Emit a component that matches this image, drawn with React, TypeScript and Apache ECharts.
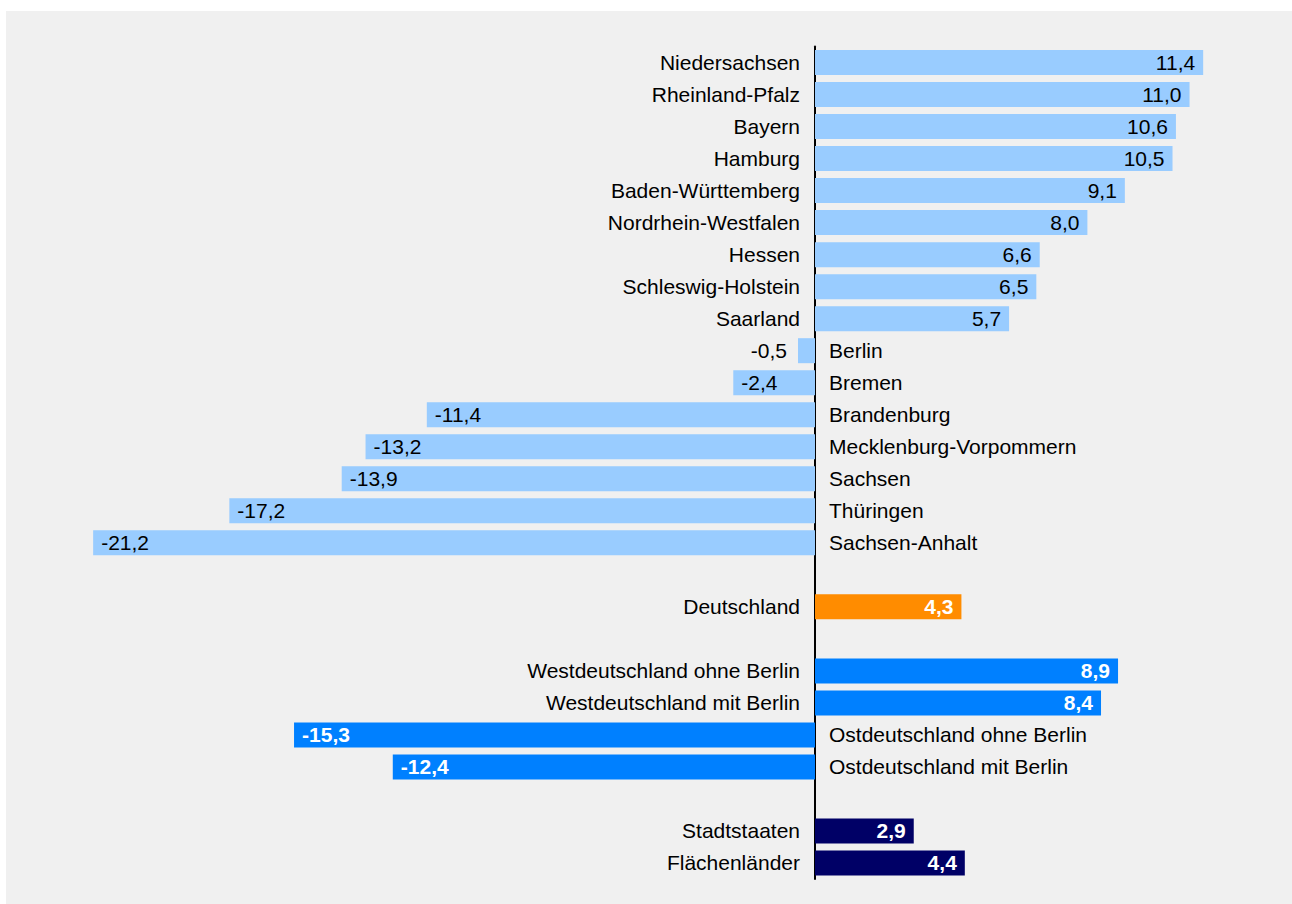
import React, { useEffect, useRef } from "react";
import * as echarts from "echarts";

const categories: string[] = [
  "Niedersachsen", "Rheinland-Pfalz", "Bayern", "Hamburg", "Baden-Württemberg",
  "Nordrhein-Westfalen", "Hessen", "Schleswig-Holstein", "Saarland", "Berlin",
  "Bremen", "Brandenburg", "Mecklenburg-Vorpommern", "Sachsen", "Thüringen",
  "Sachsen-Anhalt", "", "Deutschland", "", "Westdeutschland ohne Berlin",
  "Westdeutschland mit Berlin", "Ostdeutschland ohne Berlin", "Ostdeutschland mit Berlin",
  "", "Stadtstaaten", "Flächenländer",
];

const values: (number | null)[] = [
  11.4, 11.0, 10.6, 10.5, 9.1, 8.0, 6.6, 6.5, 5.7, -0.5, -2.4, -11.4, -13.2, -13.9,
  -17.2, -21.2, null, 4.3, null, 8.9, 8.4, -15.3, -12.4, null, 2.9, 4.4,
];

const groups: string[] = [
  "land", "land", "land", "land", "land", "land", "land", "land", "land", "land",
  "land", "land", "land", "land", "land", "land", "", "de", "", "region",
  "region", "region", "region", "", "type", "type",
];

const groupColors: Record<string, string> = {
  land: "#99ccff",
  de: "#ff8c00",
  region: "#0080ff",
  type: "#000066",
};

const FONT = "'Liberation Sans', Arial, sans-serif";
const FS = 21;

export default function App() {
  const ref = useRef<HTMLDivElement>(null);
  useEffect(() => {
    document.body.style.margin = "0";
    const chart = echarts.init(ref.current!, undefined, { renderer: "svg" });

    const valueData = values.map((v, i) => {
      if (v === null) return { value: null };
      const g = groups[i];
      const light = g === "land";
      const small = Math.abs(v) < 1;
      let position: any = v >= 0 ? "insideRight" : "insideLeft";
      let distance = 8;
      if (small) {
        position = v >= 0 ? "right" : "left";
        distance = 11;
      }
      return {
        value: v,
        itemStyle: { color: groupColors[g] },
        label: {
          show: true,
          position,
          distance,
          color: light ? "#000000" : "#ffffff",
          fontWeight: light ? "normal" : "bold",
          fontSize: FS,
          fontFamily: FONT,
          formatter: () => v.toFixed(1).replace(".", ","),
        },
      };
    });

    const nameData = values.map((v, i) => {
      if (v === null) return { value: null };
      return {
        value: v,
        label: {
          show: true,
          position: v >= 0 ? "left" : "right",
          distance: v >= 0 ? 15 : 14,
          color: "#000000",
          fontSize: FS,
          fontFamily: FONT,
          formatter: () => categories[i],
        },
      };
    });

    chart.setOption({
      animation: false,
      backgroundColor: "#ffffff",
      graphic: [
        {
          type: "rect",
          z: -10,
          silent: true,
          shape: { x: 6, y: 11, width: 1292 - 6, height: 904 - 11 },
          style: { fill: "#f0f0f0" },
        },
      ],
      grid: { left: 65.9, right: 68.4, top: 46.5, height: 832.5, containLabel: false },
      xAxis: {
        type: "value",
        min: -22,
        max: 12,
        axisLabel: { show: false },
        axisLine: { show: false },
        axisTick: { show: false },
        splitLine: { show: false },
      },
      yAxis: {
        type: "category",
        inverse: true,
        data: categories,
        axisLabel: { show: false },
        axisTick: { show: false },
        axisLine: { show: true, onZero: true, lineStyle: { color: "#000000", width: 2 } },
        splitLine: { show: false },
      },
      series: [
        {
          type: "bar",
          barWidth: 25,
          barGap: "-100%",
          data: valueData,
        },
        {
          type: "bar",
          barWidth: 25,
          barGap: "-100%",
          itemStyle: { color: "rgba(0,0,0,0)" },
          data: nameData,
          z: 1,
        },
      ],
    });
    return () => chart.dispose();
  }, []);
  return <div ref={ref} style={{ width: 1292, height: 904 }} />;
}
